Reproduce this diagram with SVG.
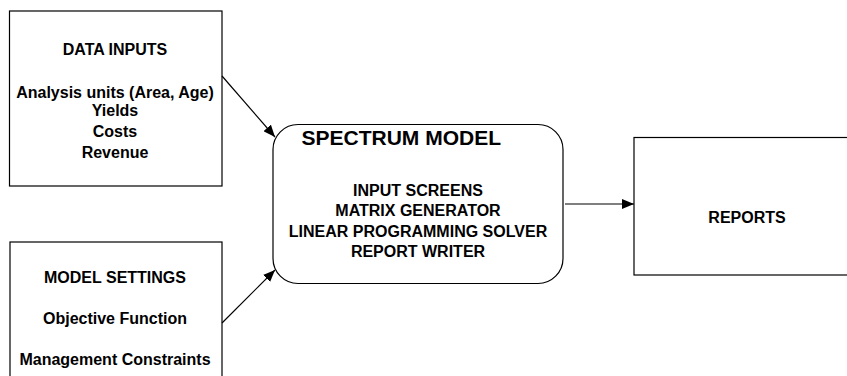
<svg xmlns="http://www.w3.org/2000/svg" width="847" height="376" viewBox="0 0 847 376">
<style>
.box{fill:#fff;stroke:#000;stroke-width:1.2}
.t{font-family:"Liberation Sans",Arial,sans-serif;font-weight:bold;font-size:16px;fill:#000;text-anchor:middle}
.big{font-size:21px;text-anchor:start}
.c{stroke:#000;stroke-width:1.2;fill:none}
</style>
<defs>
<marker id="ah" markerWidth="12" markerHeight="10" refX="12" refY="5" orient="auto" markerUnits="userSpaceOnUse">
<path d="M0,0 L12,5 L0,10 Z" fill="#000"/>
</marker>
</defs>
<rect width="847" height="376" fill="#fff"/>
<g id="data-inputs">
<rect class="box" x="9.5" y="11" width="212.5" height="175"/>
<text class="t" x="115" y="55">DATA INPUTS</text>
<text class="t" x="115" y="98">Analysis units (Area, Age)</text>
<text class="t" x="115" y="116">Yields</text>
<text class="t" x="115" y="137">Costs</text>
<text class="t" x="115" y="158">Revenue</text>
</g>
<g id="model-settings">
<rect class="box" x="10" y="242" width="212" height="150"/>
<text class="t" x="115" y="283">MODEL SETTINGS</text>
<text class="t" x="115" y="324">Objective Function</text>
<text class="t" x="115" y="365">Management Constraints</text>
</g>
<g id="spectrum-model">
<rect class="box" x="273" y="124.5" width="290" height="159" rx="25" ry="25"/>
<text class="t big" x="301.5" y="145">SPECTRUM MODEL</text>
<text class="t" x="418" y="196">INPUT SCREENS</text>
<text class="t" x="418" y="216">MATRIX GENERATOR</text>
<text class="t" x="418" y="237">LINEAR PROGRAMMING SOLVER</text>
<text class="t" x="418" y="257">REPORT WRITER</text>
</g>
<g id="reports">
<rect class="box" x="634" y="137.5" width="226" height="137.5"/>
<text class="t" x="747" y="222.5">REPORTS</text>
</g>
<g id="connectors">
<line class="c" x1="222" y1="76" x2="275" y2="137" marker-end="url(#ah)"/>
<line class="c" x1="222" y1="323" x2="275" y2="270" marker-end="url(#ah)"/>
<line class="c" x1="565" y1="204" x2="634" y2="204" marker-end="url(#ah)"/>
</g>
</svg>
